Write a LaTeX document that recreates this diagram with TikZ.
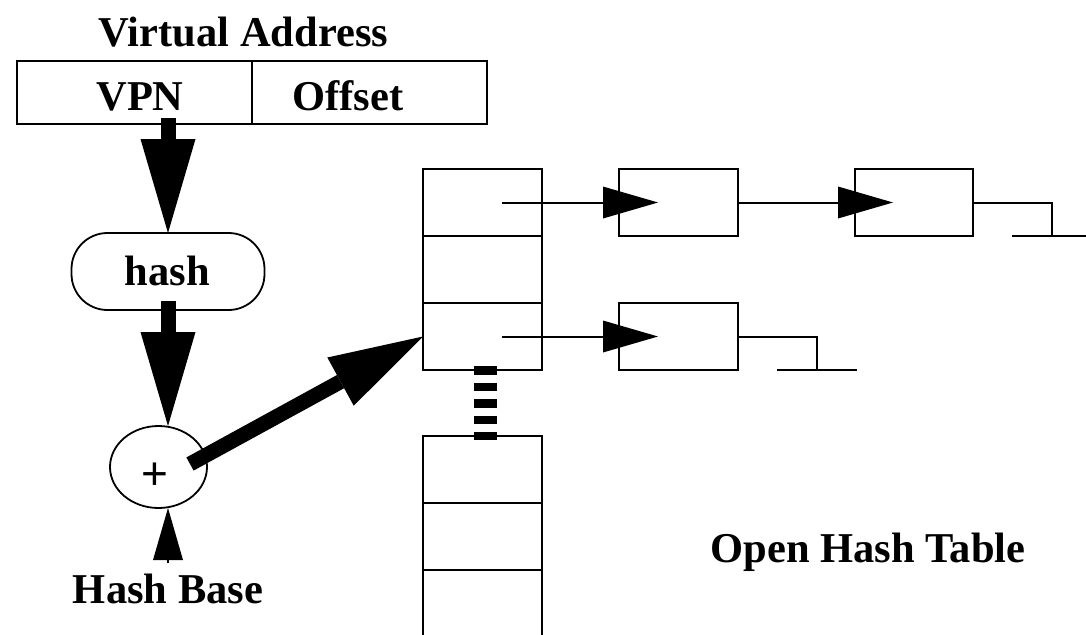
\documentclass[tikz,border=0pt]{standalone}
\usepackage{fontspec}
\setmainfont{Liberation Serif}
\newfontfamily\plusfont{Liberation Sans}
\usetikzlibrary{arrows.meta,shapes.geometric}
\begin{document}
\begin{tikzpicture}[x=1pt,y=-1pt,
  box/.style={draw, line width=1.8pt, inner sep=0pt, outer sep=0pt},
  cell/.style={box, minimum width=119pt, minimum height=67pt},
  vacell/.style={box, minimum width=235pt, minimum height=63pt},
  lbl/.style={font=\fontsize{42.5}{50}\selectfont\bfseries, inner sep=0pt, anchor=base},
  bigarrow/.style={line width=15pt, -{Triangle[length=94pt,width=55pt,line width=0pt]}},
  listarrow/.style={line width=2pt, -{Triangle[length=55pt,width=32pt,line width=0pt]}},
  basearrow/.style={line width=1.5pt, -{Triangle[length=52pt,width=30pt,line width=0pt]}},
  wire/.style={line width=2pt},
  dots/.style={line width=23pt, dash pattern=on 8.5pt off 8pt}
]
\useasboundingbox (0,0) rectangle (1086,634);

% virtual address
\node[lbl] (vatitle) at (243.5,47) {Virtual Address};
\node[vacell] (vpn) at (134.5,92.5) {};
\node[vacell] (off) at (369.5,92.5) {};
\node[lbl] (vpntxt) at (140,110) {VPN};
\node[lbl] (offtxt) at (348,110) {Offset};

% hash
\node[box, rounded corners=36pt, minimum width=193pt, minimum height=77pt] (hash) at (168,271.5) {};
\node[lbl] (hashtxt) at (167.5,285) {hash};

% plus
\node[box, ellipse, minimum width=97pt, minimum height=82pt] (plus) at (158.5,467) {};
\node[font=\plusfont\fontsize{46}{50}\selectfont, inner sep=0pt, anchor=base] (plustxt) at (154.5,489) {+};

% hash base
\node[lbl] (hb) at (168,603) {Hash Base};

% table
\node[cell] (t1) at (482.5,202.5) {};
\node[cell] (t2) at (482.5,269.5) {};
\node[cell] (t3) at (482.5,336.5) {};
\node[cell] (b1) at (482.5,469.5) {};
\node[cell] (b2) at (482.5,536.5) {};
\node[cell] (b3) at (482.5,603.5) {};

% list nodes
\node[cell] (n1) at (678.5,202.5) {};
\node[cell, minimum width=118pt] (n2) at (914,202.5) {};
\node[cell] (n3) at (678.5,336.5) {};

\node[lbl] (oht) at (868,562) {Open Hash Table};

% big arrows
\draw[bigarrow] ([xshift=33.5pt,yshift=6pt]vpn.south) -- (vpn.south -| hash.north) -- (hash.north);
\draw[bigarrow] ([yshift=9pt]hash.south) -- (hash.south |- plus.north);
\draw[bigarrow] ([shift={(31.5pt,3pt)}]plus.center) -- (t3.west);

% hash base arrow
\draw[basearrow] ([yshift=10pt]hb.north) -- (hb.north |- plus.south);

% list arrows
\draw[listarrow] ([xshift=-40pt]t1.east) -- ([xshift=39pt]n1.west);
\draw[listarrow] (n1.east) -- ([xshift=38pt]n2.west);
\draw[listarrow] ([xshift=-40pt]t3.east) -- ([xshift=39pt]n3.west);

% ground terminators
\coordinate (g1) at (1052,236);
\coordinate (g1a) at (1012,236);
\coordinate (g1b) at (1086,236);
\draw[wire] (n2.east) -| (g1);
\draw[wire] (g1a) -- (g1b);
\coordinate (g2) at (817,370);
\coordinate (g2a) at (777,370);
\coordinate (g2b) at (857,370);
\draw[wire] (n3.east) -| (g2);
\draw[wire] (g2a) -- (g2b);

% dotted continuation
\draw[dots] ([xshift=3pt,yshift=4pt]t3.south) -- ([xshift=3pt,yshift=-4pt]b1.north);
\end{tikzpicture}
\end{document}
